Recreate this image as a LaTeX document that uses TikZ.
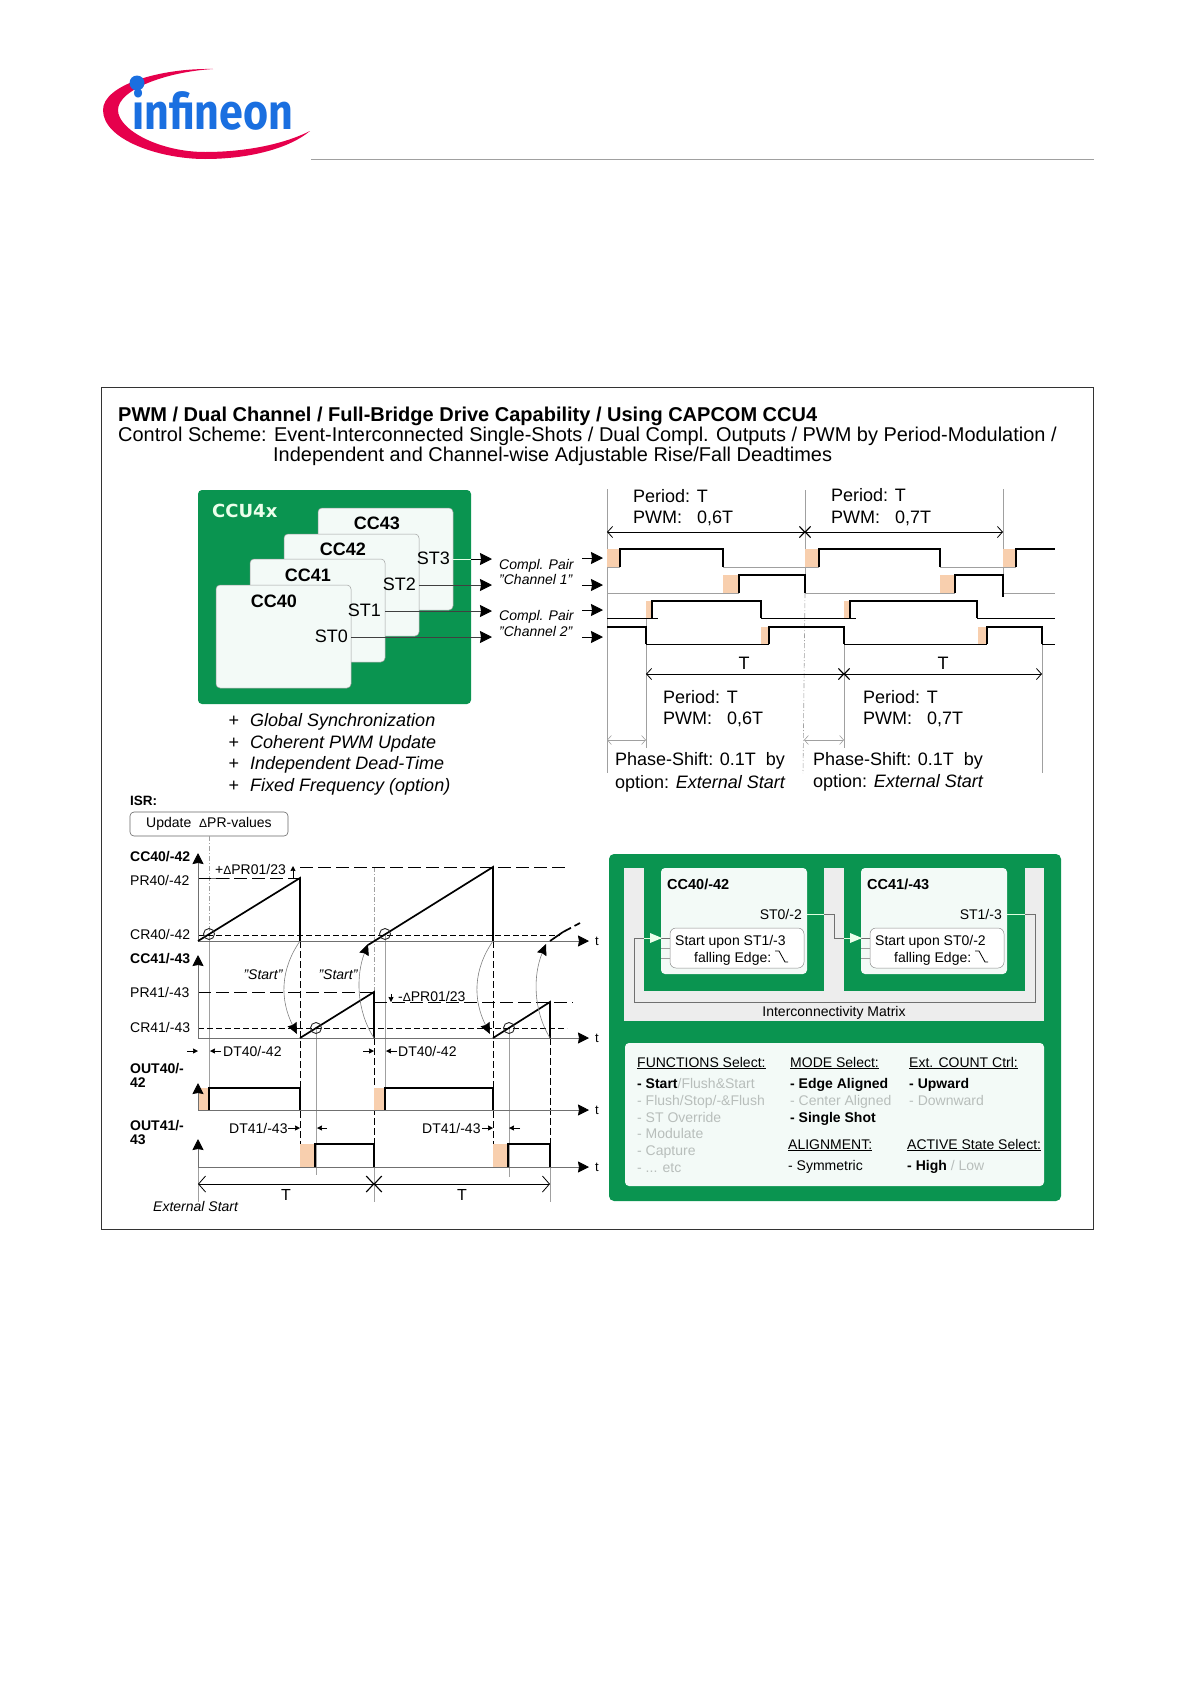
\documentclass[tikz,border=0pt]{standalone}
\usepackage{fontspec}
\setmainfont{Liberation Sans}
\newfontfamily\logofont{Fira Sans}
\newfontfamily\wideface{DejaVu Sans}
\usepackage{tikz}
\usetikzlibrary{arrows.meta,shapes.misc}
\newcommand{\fsz}[1]{\fontsize{#1}{#1}\selectfont}
\definecolor{ifxgreen}{HTML}{0A9450}
\definecolor{ifxpale}{HTML}{F3FAF7}
\definecolor{ifxred}{HTML}{E6004C}
\definecolor{ifxblue}{HTML}{1A6FE0}
\definecolor{deadfill}{HTML}{F8CFAE}
\definecolor{thinline}{HTML}{A0A0A0}
\definecolor{offtext}{HTML}{B8BEBB}
\tikzset{
  txt/.style={font=\fsz{#1},inner sep=0pt,anchor=west,text depth=0pt,text height=0.72*#1 pt},
  txtr/.style={txt=#1,anchor=east},
  txtc/.style={txt=#1,anchor=center},
  ccbox/.style={draw=thinline,line width=0.5pt,fill=ifxpale,rounded corners=4pt,inner sep=0pt},
  bigtip/.style={-{Stealth[length=12pt,width=12pt,inset=1pt,black]}},
  axisline/.style={thinline!70!black,line width=0.7pt,-{Stealth[length=11pt,width=11pt,inset=1pt,black]}},
  dimline/.style={line width=0.8pt,{Straight Barb[length=5pt,width=11pt]}-{Straight Barb[length=5pt,width=11pt]}},
  graydim/.style={thinline,line width=0.6pt,{Straight Barb[length=4pt,width=9pt]}-{Straight Barb[length=4pt,width=9pt]}},
  crossmk/.style={draw,cross out,minimum size=#1,inner sep=0pt,line width=0.8pt},
  wave/.style={line width=1.4pt},
  lowline/.style={line width=0.8pt},
  outwave/.style={line width=2.6pt},
  ramp/.style={line width=1.7pt},
  guide/.style={thinline,line width=0.6pt},
  dotguide/.style={thinline,line width=0.6pt,dash pattern=on 5pt off 2pt on 1pt off 2pt},
  blackdash/.style={line width=0.9pt,dash pattern=on 7pt off 3pt},
  leveldash/.style={line width=0.7pt,dash pattern=on 13pt off 5pt},
  crdash/.style={line width=0.8pt,dash pattern=on 6pt off 3pt},
  startarc/.style={thinline!80!black,line width=0.6pt,-{Stealth[length=11pt,width=10pt,inset=1pt,black]}},
  smallarr/.style={line width=0.5pt,-{Stealth[length=5pt,width=5pt,inset=0.5pt]}},
  zero/.style={draw=black!85,line width=0.9pt,circle,minimum size=11pt,inner sep=0pt},
  matrixline/.style={thinline!70!black,line width=0.6pt},
  matrixlight/.style={green!12,line width=0.6pt},
}
\begin{document}
\begin{tikzpicture}[x=1pt,y=-1pt]
\useasboundingbox (0,0) rectangle (1191,1684);
% logo
\fill[ifxred] (213,69) .. controls (160,68) and (103,85) .. (103,110)
  .. controls (103,140) and (160,159) .. (205,159)
  .. controls (250,159) and (290,148) .. (310,131)
  .. controls (280,146) and (240,152) .. (205,152)
  .. controls (160,152) and (118,130) .. (118,110)
  .. controls (118,90) and (165,72) .. (213,69) -- cycle;
\node[inner sep=0pt,anchor=base west,xscale=0.86,text=ifxblue,font=\fsz{50}\logofont\bfseries] (logo) at (132,129) {infineon};
\fill[ifxblue] (137,83) circle (7.5);
\coordinate (ruleA) at (311,159);
\coordinate (ruleB) at (1094,159);
\draw[thinline,line width=0.8pt] (ruleA) -- (ruleB);
% frame and title
\draw[black!80,line width=0.8pt] (101,387) rectangle (1093,1229);
\node[txt=20,font=\fsz{20}\bfseries] (title) at (118,414) {PWM / Dual Channel / Full-Bridge Drive Capability / Using CAPCOM CCU4};
\node[txt=19.95] (subA) at (118,434) {Control Scheme: Event-Interconnected Single-Shots / Dual Compl. Outputs / PWM by Period-Modulation /};
\node[txt=19.95] (subB) at (273,454) {Independent and Channel-wise Adjustable Rise/Fall Deadtimes};
% CCU4x block
\node[fill=ifxgreen,rounded corners=4pt,inner sep=0pt,minimum width=273pt,minimum height=214pt] (CCU) at (334.5,597) {};
\node[txt=18,font=\fsz{18}\wideface\bfseries,text=green!8] (ccuname) at (212,511) {CCU4x};
\coordinate (outC) at (492,559);
\coordinate (outD) at (492,585);
\coordinate (outB) at (492,611);
\coordinate (outA) at (492,637);
\node[ccbox,minimum width=135pt,minimum height=102pt] (CC43) at (385.5,559) {};
\draw[green!10,line width=0.8pt] (CC43.east|-outC) -- (CCU.east|-outC);
\draw[bigtip,line width=0.9pt] (CCU.east|-outC) -- (outC);
\node[ccbox,minimum width=135pt,minimum height=102pt] (CC42) at (351.5,585) {};
\draw[bigtip,black!75,line width=0.9pt] (CC42.east|-outD) -- (outD);
\node[ccbox,minimum width=135pt,minimum height=103pt] (CC41) at (317.5,610.5) {};
\draw[bigtip,black!75,line width=0.9pt] (CC41.east|-outB) -- (outB);
\node[ccbox,minimum width=135pt,minimum height=103pt] (CC40) at (283.5,636.5) {};
\draw[bigtip,black!75,line width=0.9pt] (CC40.east|-outA) -- (outA);
\node[txtc=18,font=\fsz{18}\bfseries] (nameCC43) at (377,523) {CC43};
\node[txtc=18,font=\fsz{18}\bfseries] (nameCC42) at (343,549) {CC42};
\node[txtc=18,font=\fsz{18}\bfseries] (nameCC41) at (308,575) {CC41};
\node[txtc=18,font=\fsz{18}\bfseries] (nameCC40) at (274,601) {CC40};
\node[txtr=18] (ST3) at (450,558) {ST3};
\node[txtr=18] (ST2) at (416,584) {ST2};
\node[txtr=18] (ST1) at (381,610) {ST1};
\node[txtr=18] (ST0) at (348,636) {ST0};
\node[txt=14,font=\fsz{14}\itshape] (pairA) at (499,564) {Compl. Pair};
\node[txt=14,font=\fsz{14}\itshape] (pairB) at (499,579) {"Channel 1"};
\node[txt=14,font=\fsz{14}\itshape] (pairC) at (499,615) {Compl. Pair};
\node[txt=14,font=\fsz{14}\itshape] (pairD) at (499,631) {"Channel 2"};
\coordinate (inC) at (582,558);
\coordinate (tipC) at (603,558);
\coordinate (inD) at (582,585);
\coordinate (tipD) at (603,585);
\coordinate (inB) at (582,610);
\coordinate (tipB) at (603,610);
\coordinate (inA) at (582,637);
\coordinate (tipA) at (603,637);
\foreach \nm in {C,D,B,A}
  \draw[bigtip,line width=0.9pt] (in\nm) -- (tip\nm);
% feature list
\foreach \yy/\nm/\tx in {720/a/Global Synchronization,742/b/Coherent PWM Update,763/c/Independent Dead-Time,785/d/Fixed Frequency (option)} {
  \node[txtc=18] (plus\nm) at (234,\yy) {+};
  \node[txt=18,font=\fsz{18}\itshape] (feat\nm) at (250,\yy) {\tx};
}
% upper timing: guides
\coordinate (pA) at (607,532);
\coordinate (pB) at (805,532);
\coordinate (pC) at (1003,532);
\coordinate (qA) at (646,674);
\coordinate (qB) at (844,674);
\coordinate (qC) at (1042,674);
\draw[guide] (607,489) -- (607,773);
\draw[guide] (805,490) -- (805,593);
\draw[dotguide] (805,593) -- (803,773);
\draw[guide] (1003,489) -- (1003,597);
\draw[guide] (646,617) -- (646,748);
\draw[guide] (844,627) -- (844,748);
\draw[guide] (1042,644) -- (1042,773);
\fill[deadfill] (607,549) rectangle (620,567);
\fill[deadfill] (805,549) rectangle (819,567);
\fill[deadfill] (1003,549) rectangle (1016,567);
\fill[deadfill] (723,575) rectangle (739,593);
\fill[deadfill] (940,575) rectangle (955,593);
\fill[deadfill] (646,601) rectangle (652,618);
\fill[deadfill] (844,601) rectangle (850,618);
\fill[deadfill] (761,627) rectangle (769,644);
\fill[deadfill] (978,627) rectangle (987,644);
\draw[thinline,line width=0.8pt] (607,567) -- (620,567) (723,567) -- (819,567) (940,567) -- (1016,567);
\draw[wave] (620,567) -- (620,549) -| (723,567);
\draw[wave] (819,567) -- (819,549) -| (940,567);
\draw[wave] (1016,567) -- (1016,549) -- (1055,549);
\draw[thinline,line width=0.8pt] (607,593) -- (739,593) (805,593) -- (955,593) (1003,593) -- (1055,593);
\draw[wave] (739,593) -- (739,575) -| (805,593);
\draw[wave] (955,593) -- (955,575) -| (1003,597);
\draw[line width=0.7pt] (607,618) -- (658,618) (761,618) -- (856,618) (977,618) -- (1055,618);
\draw[wave] (652,618) -- (652,601) -| (761,618);
\draw[wave] (850,618) -- (850,601) -| (977,618);
\draw[wave] (607,627) -| (646,644);
\draw[lowline] (646,644) -- (769,644) (844,644) -- (987,644) (1042,644) -- (1055,644);
\draw[wave] (769,644) -- (769,627) -| (844,644);
\draw[wave] (987,644) -- (987,627) -| (1042,644);
\draw[dimline] (pA) -- (pB);
\draw[dimline] (pB) -- (pC);
\node[crossmk=10pt] (crossP) at (pB) {};
\draw[dimline] (qA) -- (qB);
\draw[dimline] (qB) -- (qC);
\node[crossmk=10pt] (crossQ) at (qB) {};
\coordinate (sA) at (607,740);
\coordinate (sB) at (646,740);
\coordinate (sC) at (804,740);
\coordinate (sD) at (844,740);
\draw[graydim] (sA) -- (sB);
\draw[graydim] (sC) -- (sD);
\node[txt=18] (perA) at (633,496) {Period: T};
\node[txt=18] (pwmA) at (633,517) {PWM:\ \ \ 0,6T};
\node[txt=18] (perB) at (831,495) {Period: T};
\node[txt=18] (pwmB) at (831,517) {PWM:\ \ \ 0,7T};
\node[txt=18] (perC) at (663,697) {Period: T};
\node[txt=18] (pwmC) at (663,718) {PWM:\ \ \ 0,6T};
\node[txt=18] (perD) at (863,697) {Period: T};
\node[txt=18] (pwmD) at (863,718) {PWM:\ \ \ 0,7T};
\node[txtc=18] (tA) at (744,663) {T};
\node[txtc=18] (tB) at (943,663) {T};
\node[txt=18] (phA) at (615,759) {Phase-Shift: 0.1T\ \ by};
\node[txt=18] (opA) at (615,782) {option: \textit{External Start}};
\node[txt=18] (phB) at (813,759) {Phase-Shift: 0.1T\ \ by};
\node[txt=18] (opB) at (813,781) {option: \textit{External Start}};
% ISR and ramps
\node[txt=13.5,font=\fsz{13.5}\bfseries] (isr) at (130,801) {ISR:};
\node[draw=black!60,line width=0.6pt,rounded corners=4pt,minimum width=158pt,minimum height=24pt,inner sep=0pt,font=\fsz{14}] (isrbox) at (209,824) {Update\ \ {\fsz{12}Δ}PR-values};
\node[txt=14,font=\fsz{14}\bfseries] (lbCCa) at (130,856) {CC40/-42};
\node[txt=14] (lbPRa) at (130,880) {PR40/-42};
\node[txt=14] (lbCRa) at (130,934) {CR40/-42};
\node[txt=14,font=\fsz{14}\bfseries] (lbCCb) at (130,958) {CC41/-43};
\node[txt=14] (lbPRb) at (130,992) {PR41/-43};
\node[txt=14] (lbCRb) at (130,1027) {CR41/-43};
\coordinate (upa) at (209,836);
\draw[dotguide] (isrbox.south-|upa) -- (209,934);
\draw[guide] (209,934) -- (209,1088);
\draw[dotguide] (374,867) -- (374,992);
\draw[guide] (385,934) -- (385,1088);
\draw[guide] (316,1028) -- (316,1175);
\draw[guide] (509,1028) -- (509,1177);
\draw[guide] (374,1145) -- (374,1202);
\draw[guide] (550,1167) -- (550,1202);
\draw[guide] (198,1167) -- (198,1202);
\draw[line width=0.7pt,thinline!70!black] (198,878) -- (230,878);
\draw[leveldash] (198,878) -- (300,878);
\draw[leveldash] (300,867) -- (567,867);
\draw[crdash] (198,935) -- (560,935);
\draw[leveldash] (198,992) -- (374,992);
\draw[leveldash] (374,1002) -- (573,1002);
\draw[crdash] (198,1028) -- (567,1028);
\draw[blackdash] (300,941) -- (300,1145);
\draw[blackdash] (374,1038) -- (374,1145);
\draw[blackdash] (493,941) -- (493,1145);
\draw[blackdash] (550,1038) -- (550,1167);
\draw[axisline] (198,941) -- (198,853);
\draw[axisline] (198,941) -- (589,941);
\draw[axisline] (198,1038) -- (198,955);
\draw[axisline] (198,1038) -- (589,1038);
\draw[ramp] (198,941) -- (300,878) -- (300,941);
\draw[ramp] (368,945) -- (493,867) -- (493,941);
\draw[ramp] (550,941) -- (563,932);
\draw[ramp,dash pattern=on 9pt off 4pt] (563,932) -- (580,923);
\draw[ramp] (300,1038) -- (374,992) -- (374,1038);
\draw[ramp] (493,1038) -- (550,1002) -- (550,1038);
\node[zero] (zeroA) at (209,934) {};
\node[zero] (zeroB) at (385,934) {};
\node[zero] (zeroC) at (316,1028) {};
\node[zero] (zeroD) at (509,1028) {};
\draw[startarc] (300,941) .. controls (280,970) and (280,1000) .. (297,1034);
\draw[startarc] (374,1038) .. controls (356,1010) and (356,975) .. (368,944);
\draw[startarc] (493,941) .. controls (473,970) and (473,1000) .. (490,1034);
\draw[startarc] (550,1038) .. controls (533,1010) and (533,975) .. (546,944);
\node[txtc=14,font=\fsz{14}\itshape] (startA) at (263,974) {"Start"};
\node[txtc=14,font=\fsz{14}\itshape] (startB) at (338,974) {"Start"};
\node[txt=14] (dpA) at (215,869) {+{\fsz{12}Δ}PR01/23};
\draw[smallarr] (293,878) -- (293,866);
\node[txt=14] (dpB) at (398,996) {-{\fsz{12}Δ}PR01/23};
\draw[smallarr] (391,994) -- (391,1002);
\node[txtc=13] (tx1) at (597,941) {t};
\node[txtc=13] (tx2) at (597,1038) {t};
\node[txtc=13] (tx3) at (597,1110) {t};
\node[txtc=13] (tx4) at (597,1167) {t};
% output traces
\node[txt=14,font=\fsz{14}\bfseries] (outAa) at (130,1068) {OUT40/-};
\node[txt=14,font=\fsz{14}\bfseries] (outAb) at (130,1082) {42};
\node[txt=14,font=\fsz{14}\bfseries] (outBa) at (130,1125) {OUT41/-};
\node[txt=14,font=\fsz{14}\bfseries] (outBb) at (130,1139) {43};
\node[txt=14] (dtA) at (223,1051) {DT40/-42};
\node[txt=14] (dtB) at (398,1051) {DT40/-42};
\node[txt=14] (dtC) at (229,1128) {DT41/-43};
\node[txt=14] (dtD) at (422,1128) {DT41/-43};
\draw[smallarr] (187,1051) -- (198,1051);
\draw[smallarr] (221,1051) -- (210,1051);
\draw[smallarr] (363,1051) -- (374,1051);
\draw[smallarr] (397,1051) -- (386,1051);
\draw[smallarr] (288,1128) -- (300,1128);
\draw[smallarr] (327,1128) -- (317,1128);
\draw[smallarr] (482,1128) -- (493,1128);
\draw[smallarr] (520,1128) -- (509,1128);
\fill[deadfill] (198,1088) rectangle (209,1110);
\fill[deadfill] (374,1088) rectangle (385,1110);
\fill[deadfill] (300,1144) rectangle (315,1167);
\fill[deadfill] (493,1144) rectangle (508,1167);
\draw[axisline] (198,1110) -- (198,1083);
\draw[axisline] (198,1110) -- (589,1110);
\draw[axisline] (198,1167) -- (198,1139);
\draw[axisline] (198,1167) -- (589,1167);
\draw[outwave] (209,1110) -- (209,1088) -| (300,1110);
\draw[outwave] (385,1110) -- (385,1088) -| (493,1110);
\draw[outwave] (315,1167) -- (315,1144) -| (374,1167);
\draw[outwave] (508,1167) -- (508,1144) -| (550,1167);
\coordinate (dA) at (198,1184);
\coordinate (dB) at (374,1184);
\coordinate (dC) at (550,1184);
\draw[dimline,{Straight Barb[length=7pt,width=16pt]}-{Straight Barb[length=7pt,width=16pt]}] (dA) -- (dB);
\draw[dimline,{Straight Barb[length=7pt,width=16pt]}-{Straight Barb[length=7pt,width=16pt]}] (dB) -- (dC);
\node[crossmk=15pt] (crossD) at (dB) {};
\node[txtc=16] (dT1) at (286,1195) {T};
\node[txtc=16] (dT2) at (462,1195) {T};
\node[txt=14,font=\fsz{14}\itshape] (extst) at (153,1206) {External Start};
% green panel
\node[fill=ifxgreen,rounded corners=5pt,inner sep=0pt,minimum width=452pt,minimum height=347pt] (panel) at (835,1027.5) {};
\node[fill=black!7,inner sep=0pt,minimum width=420pt,minimum height=153pt] (matrix) at (834,944.5) {};
\node[fill=ifxgreen,inner sep=0pt,minimum width=180pt,minimum height=123pt] (slotA) at (734,929.5) {};
\node[fill=ifxgreen,inner sep=0pt,minimum width=181pt,minimum height=123pt] (slotB) at (934.5,929.5) {};
\node[ccbox,draw=none,minimum width=146pt,minimum height=106pt] (unitA) at (734,921) {};
\node[ccbox,draw=none,minimum width=146pt,minimum height=106pt] (unitB) at (934,921) {};
\node[ccbox,draw=black!45,fill=white,rounded corners=6pt,minimum width=134pt,minimum height=40pt] (startA2) at (737,948) {};
\node[ccbox,draw=black!45,fill=white,rounded corners=6pt,minimum width=134pt,minimum height=40pt] (startB2) at (937,948) {};
\node[txt=14.5,font=\fsz{14.5}\bfseries] (nameA) at (667,884) {CC40/-42};
\node[txt=14.5,font=\fsz{14.5}\bfseries] (nameB) at (867,884) {CC41/-43};
\node[txtr=14] (st0) at (802,914) {ST0/-2};
\node[txtr=14] (st1) at (1002,914) {ST1/-3};
\node[txt=14] (upA) at (675,940) {Start upon ST1/-3};
\node[txt=14] (upB) at (694,957) {falling Edge:};
\node[txt=14] (upC) at (875,940) {Start upon ST0/-2};
\node[txt=14] (upD) at (894,957) {falling Edge:};
\draw[line width=0.8pt] (775,951) -- (779,951) -- (785,962) -- (788,962);
\draw[line width=0.8pt] (975,951) -- (979,951) -- (985,962) -- (988,962);
\foreach \yy in {948,958} {
  \draw[thinline,line width=0.4pt] (661,\yy) -- (670,\yy);
  \draw[thinline,line width=0.4pt] (861,\yy) -- (870,\yy);
}
\coordinate (turnA) at (834,914);
\coordinate (turnB) at (834,938);
\coordinate (turnC) at (1035,914);
\coordinate (turnD) at (1035,1002);
\coordinate (turnE) at (634,1002);
\coordinate (turnF) at (634,938);
\draw[matrixline] (unitA.east|-turnA) -- (turnA) -- (turnB) -- (startB2.west|-turnB);
\draw[matrixline] (unitB.east|-turnC) -- (turnC) -- (turnD) -- (turnE) -- (turnF) -- (startA2.west|-turnF);
\draw[matrixlight] (unitA.east|-turnA) -- (slotA.east|-turnA);
\draw[matrixlight] (unitB.east|-turnC) -- (slotB.east|-turnC);
\draw[matrixlight] (slotA.west|-turnF) -- (unitA.west|-turnF);
\draw[matrixlight] (slotB.west|-turnB) -- (unitB.west|-turnB);
\fill[white!92!green] (662,938) -- (650,933) -- (650,943) -- cycle;
\fill[white!92!green] (862,938) -- (850,933) -- (850,943) -- cycle;
\node[txtc=14] (matname) at (834,1011) {Interconnectivity Matrix};
% option lists
\node[ccbox,draw=none,minimum width=419pt,minimum height=143pt] (optbox) at (834.5,1114.5) {};
\node[txt=14] (fnH) at (637,1062) {\underline{FUNCTIONS Select:}};
\node[txt=14] (fnA) at (637,1083) {\textbf{- Start}\textcolor{offtext}{/Flush\&Start}};
\node[txt=14,text=offtext] (fnB) at (637,1100) {- Flush/Stop/-\&Flush};
\node[txt=14,text=offtext] (fnC) at (637,1117) {- ST Override};
\node[txt=14,text=offtext] (fnD) at (637,1133) {- Modulate};
\node[txt=14,text=offtext] (fnE) at (637,1150) {- Capture};
\node[txt=14,text=offtext] (fnF) at (637,1167) {- ... etc};
\node[txt=14] (mdH) at (790,1062) {\underline{MODE Select:}};
\node[txt=14,font=\fsz{14}\bfseries] (mdA) at (790,1083) {- Edge Aligned};
\node[txt=14,text=offtext] (mdB) at (790,1100) {- Center Aligned};
\node[txt=14,font=\fsz{14}\bfseries] (mdC) at (790,1117) {- Single Shot};
\node[txt=14] (alH) at (788,1144) {\underline{ALIGNMENT:}};
\node[txt=14] (alA) at (788,1165) {- Symmetric};
\node[txt=14] (exH) at (909,1062) {\underline{Ext. COUNT Ctrl:}};
\node[txt=14,font=\fsz{14}\bfseries] (exA) at (909,1083) {- Upward};
\node[txt=14,text=offtext] (exB) at (909,1100) {- Downward};
\node[txt=14] (acH) at (907,1144) {\underline{ACTIVE State Select:}};
\node[txt=14] (acA) at (907,1165) {\textbf{- High} \textcolor{offtext}{/ Low}};
\end{tikzpicture}
\end{document}
